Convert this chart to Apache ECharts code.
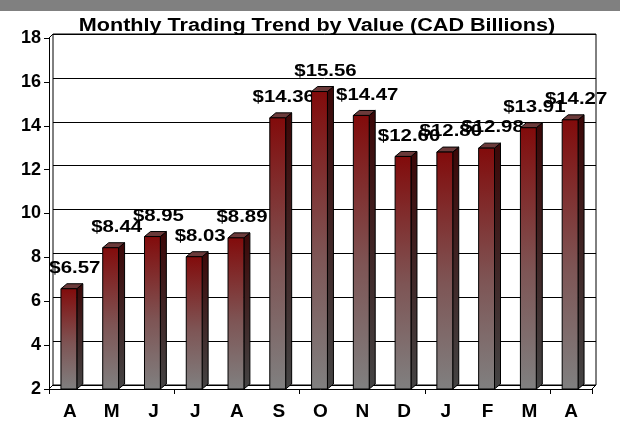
<!DOCTYPE html>
<html>
<head>
<meta charset="utf-8">
<script src="https://cdn.jsdelivr.net/npm/echarts@6/dist/echarts.min.js"></script>
<style>
  html, body { margin: 0; padding: 0; background: #fff; }
  #chart { width: 620px; height: 421px; }
</style>
</head>
<body>
<div id="chart"></div>
<script>
const months = ['A', 'M', 'J', 'J', 'A', 'S', 'O', 'N', 'D', 'J', 'F', 'M', 'A']
const values = [6.57, 8.44, 8.95, 8.03, 8.89, 14.36, 15.56, 14.47, 12.60, 12.80, 12.98, 13.91, 14.27]
const yMin = 2
const yMax = 18
const chartTitle = 'Monthly Trading Trend by Value (CAD Billions)'

const depthX = 6
const depthY = 5
const font = '"Liberation Sans", Arial, sans-serif'
// the original picture is a bit stretched sideways, so is its text
const stretch = 1.2

function renderBar(params, api) {
    const idx = api.value(0)
    const val = api.value(1)
    const top = api.coord([idx, val])
    const base = api.coord([idx, yMin])
    const w = api.size([1, 0])[0] * 0.38
    const x0 = top[0] - w / 2 - 1
    const x1 = x0 + w
    const frontFill = new echarts.graphic.LinearGradient(0, 0, 0, 1, [
        { offset: 0, color: '#820b0b' },
        { offset: 0.55, color: '#7e5555' },
        { offset: 1, color: '#808080' }
    ])
    const sideFill = new echarts.graphic.LinearGradient(0, 0, 0, 1, [
        { offset: 0, color: '#3c0707' },
        { offset: 1, color: '#444444' }
    ])
    const lineStyle = { stroke: '#000', lineWidth: 1 }
    return {
        type: 'group',
        children: [
            {
                type: 'polygon',
                shape: { points: [[x1, top[1]], [x1 + depthX, top[1] - depthY], [x1 + depthX, base[1] - depthY], [x1, base[1]]] },
                style: Object.assign({ fill: sideFill }, lineStyle)
            },
            {
                type: 'polygon',
                shape: { points: [[x0, top[1]], [x0 + depthX, top[1] - depthY], [x1 + depthX, top[1] - depthY], [x1, top[1]]] },
                style: Object.assign({ fill: '#6b3a3a' }, lineStyle)
            },
            {
                type: 'rect',
                shape: { x: x0, y: top[1], width: w, height: base[1] - top[1] },
                style: Object.assign({ fill: frontFill }, lineStyle)
            },
            {
                type: 'text',
                x: top[0] + 5,
                y: top[1] - 12,
                scaleX: stretch,
                style: {
                    text: '$' + val.toFixed(2),
                    x: 0,
                    y: 0,
                    align: 'center',
                    verticalAlign: 'bottom',
                    font: 'bold 17px ' + font,
                    fill: '#000'
                }
            }
        ]
    }
}

const chart = echarts.init(document.getElementById('chart'))
chart.setOption({
    animation: false,
    graphic: [
        { type: 'rect', shape: { x: 0, y: 0, width: 620, height: 11 }, style: { fill: '#808080' } },
        {
            type: 'text', x: 317, y: 26, scaleX: stretch,
            style: { text: chartTitle, x: 0, y: 0, align: 'center', verticalAlign: 'middle', font: 'bold 18px ' + font, fill: '#000' }
        },
        // left corner of the back wall and the floor edges
        { type: 'line', shape: { x1: 49, y1: 38, x2: 53, y2: 34 }, style: { stroke: '#000', lineWidth: 1 } },
        { type: 'line', shape: { x1: 49, y1: 389, x2: 53, y2: 385 }, style: { stroke: '#000', lineWidth: 1 } },
        { type: 'line', shape: { x1: 592, y1: 389, x2: 596, y2: 385 }, style: { stroke: '#000', lineWidth: 1 } }
    ],
    grid: [
        { left: 53, right: 24, top: 34, bottom: 36, show: true, borderColor: '#000', borderWidth: 1 },
        { left: 49, right: 28, top: 38, bottom: 32 }
    ],
    xAxis: [
        { gridIndex: 0, type: 'category', data: months, show: false },
        {
            gridIndex: 1,
            type: 'category',
            data: months,
            axisLine: { lineStyle: { color: '#000', width: 1 } },
            axisTick: { show: true, interval: 2, length: 5, lineStyle: { color: '#000' } },
            axisLabel: { interval: 0, margin: 13, color: '#000', fontWeight: 'bold', fontSize: 19, fontFamily: font },
            splitLine: { show: false }
        }
    ],
    yAxis: [
        {
            gridIndex: 0, type: 'value', min: yMin, max: yMax, interval: 2,
            axisLine: { show: false }, axisTick: { show: false }, axisLabel: { show: false },
            splitLine: { show: true, lineStyle: { color: '#000', width: 1 } }
        },
        {
            gridIndex: 1,
            type: 'value',
            min: yMin,
            max: yMax,
            interval: 2,
            axisLine: { show: true, lineStyle: { color: '#000', width: 1 } },
            axisTick: { show: true, length: 5, lineStyle: { color: '#000' } },
            axisLabel: { margin: 8, color: '#000', fontWeight: 'bold', fontSize: 18, fontFamily: font },
            splitLine: { show: false }
        }
    ],
    series: [{
        type: 'custom',
        xAxisIndex: 1,
        yAxisIndex: 1,
        renderItem: renderBar,
        data: values.map((v, i) => [i, v]),
        clip: false
    }]
})
</script>
</body>
</html>
